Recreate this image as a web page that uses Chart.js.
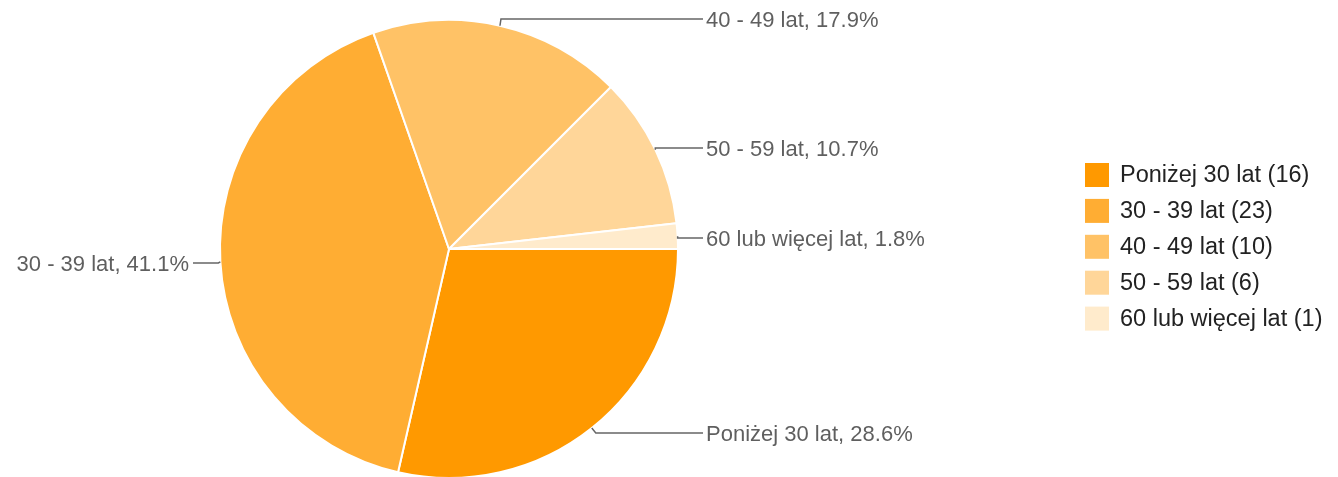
<!DOCTYPE html>
<html>
<head>
<meta charset="utf-8">
<script src="https://cdn.jsdelivr.net/npm/chart.js@4"></script>
<style>
  html, body { margin: 0; padding: 0; background: #fff; }
  #wrap { width: 1338px; height: 477px; overflow: hidden; }
</style>
</head>
<body>
<div id="wrap"><canvas id="chartWiek" width="1338" height="480"></canvas></div>
<script>
const kategorie = ["Poniżej 30 lat", "30 - 39 lat", "40 - 49 lat", "50 - 59 lat", "60 lub więcej lat"];
const liczby = [16, 23, 10, 6, 1];
const kolory = ["#ff9900", "#ffad33", "#ffc266", "#ffd699", "#ffebcc"];

// gdzie stoją podpisy (tylko układ, nie dane)
const podpisY = [433, 263, 19, 148, 238];

const suma = liczby.reduce((a, b) => a + b, 0);

const podpisyPlugin = {
  id: "podpisy",
  afterDatasetsDraw(chart) {
    const ctx = chart.ctx;
    const arcs = chart.getDatasetMeta(0).data;
    ctx.save();
    ctx.font = "22px 'Liberation Sans', Arial, sans-serif";
    ctx.textBaseline = "middle";
    ctx.strokeStyle = "#666";
    ctx.lineWidth = 1.5;
    ctx.fillStyle = "#5f5f5f";
    arcs.forEach((arc, i) => {
      const mid = (arc.startAngle + arc.endAngle) / 2;
      const ex = arc.x + Math.cos(mid) * arc.outerRadius;
      const ey = arc.y + Math.sin(mid) * arc.outerRadius;
      const ly = podpisY[i];
      const prawa = Math.cos(mid) > 0;
      const tekst = kategorie[i] + ", " + (liczby[i] / suma * 100).toFixed(1) + "%";
      ctx.beginPath();
      ctx.moveTo(ex, ey);
      if (prawa) {
        const kx = Math.abs(ey - ly) > 3 ? ex + (ly > ey ? 4 : 1) : ex;
        ctx.lineTo(kx, ly);
        ctx.lineTo(703, ly);
        ctx.stroke();
        ctx.textAlign = "left";
        ctx.fillText(tekst, 706, ly + 1.5);
      } else {
        ctx.lineTo(ex - 2, ly);
        ctx.lineTo(193, ly);
        ctx.stroke();
        ctx.textAlign = "right";
        ctx.fillText(tekst, 189, ly + 1.5);
      }
    });

    // legenda
    ctx.font = "23.5px 'Liberation Sans', Arial, sans-serif";
    ctx.textAlign = "left";
    kategorie.forEach((k, i) => {
      const y = 175 + i * 35.9;
      ctx.fillStyle = kolory[i];
      ctx.fillRect(1085, y - 12, 24, 24);
      ctx.fillStyle = "#222";
      ctx.fillText(k + " (" + liczby[i] + ")", 1120, y + 1);
    });
    ctx.restore();
  }
};

new Chart(document.getElementById("chartWiek"), {
  type: "pie",
  data: {
    labels: kategorie,
    datasets: [{
      data: liczby,
      backgroundColor: kolory,
      borderColor: "#ffffff",
      borderWidth: 2,
      hoverOffset: 0
    }]
  },
  options: {
    responsive: false,
    animation: false,
    rotation: 90,
    layout: { padding: { left: 219, right: 659, top: 19, bottom: 1 } },
    plugins: {
      legend: { display: false },
      tooltip: { enabled: false }
    }
  },
  plugins: [podpisyPlugin]
});
</script>
</body>
</html>
